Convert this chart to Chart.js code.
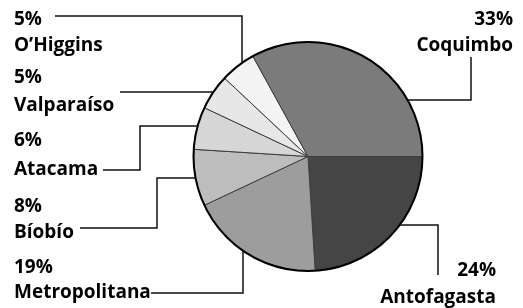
<!DOCTYPE html>
<html>
<head>
<meta charset="utf-8">
<script src="https://cdn.jsdelivr.net/npm/chart.js@4"></script>
<style>
  html, body { margin: 0; padding: 0; background: #fff; }
  #wrap { width: 523px; height: 308px; position: relative; }
</style>
</head>
<body>
<div id="wrap"><canvas id="pieChart"></canvas></div>
<script>
// data, clockwise from 3 o'clock
const regions = ['Antofagasta', 'Metropolitana', 'Bíobío', 'Atacama', 'Valparaíso', 'O’Higgins', 'Coquimbo'];
const shares = [24, 19, 8, 6, 5, 5, 33];
const shades = ['#454545', '#9d9d9d', '#bdbdbd', '#d6d6d6', '#e8e7e8', '#f4f4f4', '#7b7b7b'];

// label placement: text anchor, baselines, leader path (last segment runs to the arc)
const callouts = [
  { align: 'right', x: 496, y1: 276, y2: 303, path: [[438, 275], [438, 225]], end: 'h' },
  { align: 'left', x: 14, y1: 273, y2: 298, path: [[151, 293], [243, 293]], end: 'v' },
  { align: 'left', x: 14, y1: 212, y2: 238, path: [[80, 228], [157, 228], [157, 178]], end: 'h' },
  { align: 'left', x: 14, y1: 146, y2: 175, path: [[103, 170], [140, 170], [140, 126]], end: 'h' },
  { align: 'left', x: 14, y1: 83, y2: 111, path: [[120, 92]], end: 'h' },
  { align: 'left', x: 14, y1: 25, y2: 51, path: [[55, 16], [242, 16]], end: 'v' },
  { align: 'right', x: 513, y1: 25, y2: 51, path: [[471, 57], [471, 100]], end: 'h' }
];

const calloutPlugin = {
  id: 'callouts',
  afterDatasetsDraw(chart) {
    const ctx = chart.ctx;
    const arc = chart.getDatasetMeta(0).data[0];
    const cx = arc.x, cy = arc.y, r = arc.outerRadius;
    ctx.save();

    // heavier outline round the pie
    ctx.beginPath();
    ctx.arc(cx, cy, r, 0, Math.PI * 2);
    ctx.lineWidth = 2;
    ctx.strokeStyle = '#000';
    ctx.stroke();

    ctx.lineWidth = 1.5;
    ctx.strokeStyle = '#111';
    ctx.fillStyle = '#000';
    ctx.font = 'bold 19px "Open Sans"';
    ctx.textBaseline = 'alphabetic';

    callouts.forEach((c, i) => {
      const pts = c.path.slice();
      const [lx, ly] = pts[pts.length - 1];
      if (c.end === 'h') {
        const dx = Math.sqrt(Math.max(r * r - (ly - cy) * (ly - cy), 0));
        pts.push([cx + Math.sign(lx - cx) * dx, ly]);
      } else {
        const dy = Math.sqrt(Math.max(r * r - (lx - cx) * (lx - cx), 0));
        pts.push([lx, cy + Math.sign(ly - cy) * dy]);
      }
      ctx.beginPath();
      ctx.moveTo(pts[0][0], pts[0][1]);
      pts.slice(1).forEach(p => ctx.lineTo(p[0], p[1]));
      ctx.stroke();

      ctx.textAlign = c.align;
      ctx.fillText(shares[i] + '%', c.x, c.y1);
      ctx.fillText(regions[i], c.x, c.y2);
    });
    ctx.restore();
  }
};

const ctx = document.getElementById('pieChart').getContext('2d');
new Chart(ctx, {
  type: 'pie',
  data: {
    labels: regions,
    datasets: [{
      data: shares,
      backgroundColor: shades,
      borderColor: '#3c3c3c',
      borderWidth: 1
    }]
  },
  options: {
    responsive: true,
    maintainAspectRatio: false,
    animation: false,
    rotation: 90,
    layout: { padding: { top: 41.5, bottom: 36.5, left: 193, right: 100 } },
    plugins: {
      legend: { display: false },
      tooltip: { enabled: false }
    }
  },
  plugins: [calloutPlugin]
});
</script>
</body>
</html>
